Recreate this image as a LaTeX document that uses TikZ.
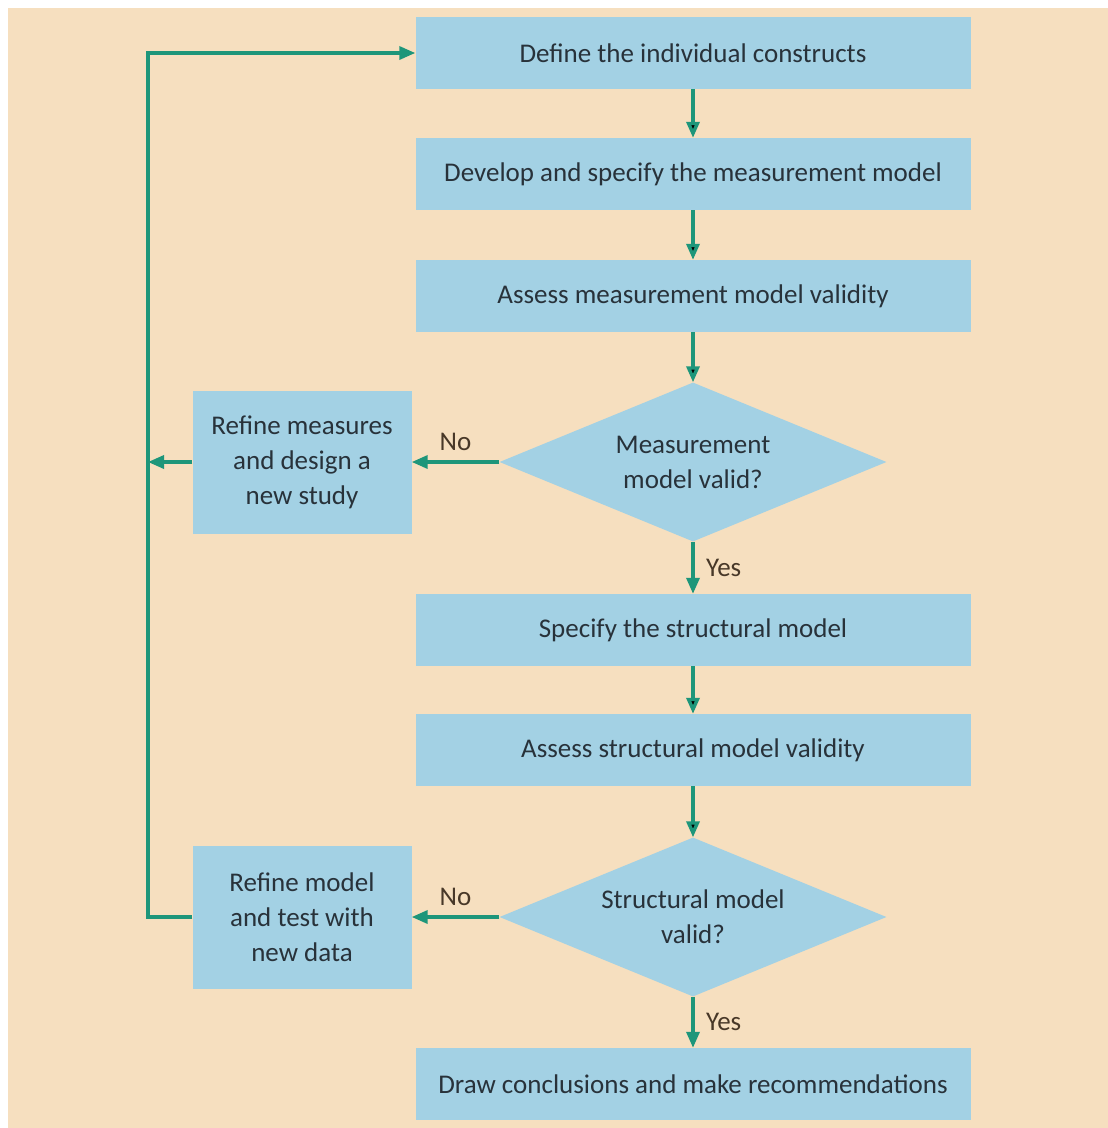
\documentclass[tikz,border=0pt]{standalone}
\usepackage{fontspec}
\setmainfont{Carlito}
\usetikzlibrary{shapes.geometric,arrows.meta,positioning}

\definecolor{paper}{RGB}{246,223,191}
\definecolor{boxblue}{RGB}{163,209,228}
\definecolor{flowgreen}{RGB}{30,150,122}
\definecolor{inktext}{RGB}{40,50,58}
\definecolor{labeltext}{RGB}{72,56,40}

\begin{document}
\begin{tikzpicture}[x=1pt,y=-1pt,>={Triangle[length=16pt,width=13pt]},
        font=\fontsize{27}{35}\selectfont]
        \tikzstyle{flow}=[->,draw=flowgreen,line width=3.4pt]
        \tikzstyle{box}=[fill=boxblue,text=inktext,inner sep=0pt,align=center]
        \tikzstyle{stage}=[box,minimum width=555pt,minimum height=72pt]
        \tikzstyle{refine}=[box,minimum width=219pt,minimum height=143pt]
        \tikzstyle{decision}=[box,diamond,aspect=2.4,minimum width=387pt,minimum height=159pt]
        \tikzstyle{answer}=[text=labeltext]

        % Page and background
        \useasboundingbox (0,0) rectangle (1108,1128);
        \fill[paper] (8,8) rectangle (1108,1128);

        % Draw the main column
        \node[stage] (S-define) at (693,53) {Define the individual constructs};
        \node[stage] (S-develop) at (693,174) {Develop and specify the measurement model};
        \node[stage] (S-assess) at (693,296) {Assess measurement model validity};
        \node[decision] (D-measure) at (693,462) {Measurement\\model valid?};
        \node[stage] (S-specify) at (693,630) {Specify the structural model};
        \node[stage] (S-structural) at (693,750) {Assess structural model validity};
        \node[decision] (D-structural) at (693,917) {Structural model\\valid?};
        \node[stage] (S-conclude) at (693,1084) {Draw conclusions and make recommendations};

        % Draw the refinement boxes
        \node[refine] (R-measures) at (302,462) {Refine measures\\and design a\\new study};
        \node[refine] (R-model) at (302,917) {Refine model\\and test with\\new data};

        % Connect the main column
        \path[flow] (S-define) edge (S-develop)
                    (S-develop) edge (S-assess)
                    (S-assess) edge (D-measure)
                    (S-specify) edge (S-structural)
                    (S-structural) edge (D-structural);
        \draw[flow] (D-measure.south) -- node[answer,right=8pt] {Yes} (S-specify.north);
        \draw[flow] (D-structural.south) -- node[answer,right=8pt] {Yes} (S-conclude.north);

        % The No branches
        \draw[flow] (D-measure.west) -- node[answer,above=6pt] {No} (R-measures.east);
        \draw[flow] (D-structural.west) -- node[answer,above=6pt] {No} (R-model.east);

        % Feed back to the first step
        \coordinate (loop-bottom) at (148,917);
        \coordinate (loop-mid) at (148,462);
        \coordinate (loop-top) at (148,53);
        \draw[flow] (R-model.west) -- (loop-bottom) -- (loop-top) -- (S-define.west);
        \draw[flow] (R-measures.west) -- (loop-mid);
    \end{tikzpicture}
\end{document}
